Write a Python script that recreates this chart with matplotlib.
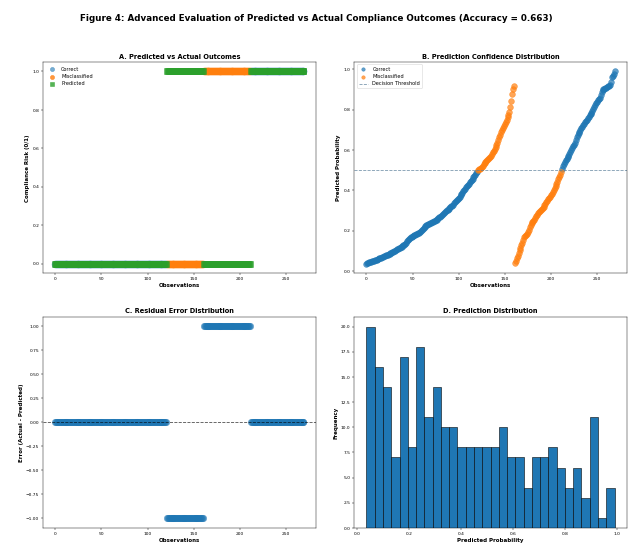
import numpy as np
import matplotlib
matplotlib.use("Agg")
import matplotlib.pyplot as plt

# predicted probabilities, sorted within each actual class
probs_class0 = [
    0.037, 0.039, 0.041, 0.043, 0.045, 0.046, 0.048, 0.050, 0.051, 0.053,
    0.055, 0.057, 0.059, 0.061, 0.063, 0.065, 0.067,
    0.070, 0.072, 0.074, 0.076, 0.078, 0.080, 0.082, 0.084, 0.086, 0.088,
    0.091, 0.093, 0.096, 0.099,
    0.102, 0.105, 0.108, 0.110, 0.113, 0.116, 0.119, 0.122, 0.125, 0.128, 0.131,
    0.135, 0.141, 0.147, 0.153, 0.160,
    0.166, 0.168, 0.171, 0.173, 0.176, 0.178, 0.181, 0.184, 0.186, 0.189,
    0.191, 0.194,
    0.198, 0.203, 0.208, 0.213, 0.219, 0.225,
    0.229, 0.231, 0.233, 0.235, 0.238, 0.240, 0.242, 0.244, 0.247, 0.249,
    0.252, 0.255, 0.258,
    0.262, 0.266, 0.270, 0.274, 0.279, 0.284, 0.289,
    0.293, 0.297, 0.301, 0.305, 0.309, 0.313, 0.317, 0.321,
    0.325, 0.330, 0.336, 0.341, 0.347, 0.352,
    0.358, 0.364, 0.370, 0.377, 0.384,
    0.389, 0.396, 0.402, 0.409, 0.416,
    0.421, 0.427, 0.434, 0.440, 0.447,
    0.453, 0.459, 0.465, 0.471, 0.478,
    0.485, 0.493, 0.501, 0.505, 0.508, 0.511,
    0.517, 0.523, 0.529, 0.535, 0.542,
    0.548, 0.552, 0.557, 0.562, 0.567, 0.573,
    0.582, 0.589, 0.597, 0.605,
    0.614, 0.624, 0.635,
    0.648, 0.663,
    0.677, 0.688, 0.699,
    0.709, 0.719, 0.730,
    0.741, 0.751, 0.762,
    0.774, 0.789,
    0.812, 0.845, 0.878, 0.905, 0.918,
]

probs_class1 = [
    0.040, 0.052, 0.064,
    0.077, 0.092,
    0.107, 0.117, 0.127,
    0.140, 0.156,
    0.168, 0.174, 0.180, 0.186, 0.192,
    0.204, 0.218,
    0.231, 0.237, 0.243, 0.249, 0.255,
    0.264, 0.271, 0.278, 0.286,
    0.294, 0.299, 0.304, 0.309, 0.314, 0.319,
    0.327, 0.334, 0.341, 0.349,
    0.358, 0.364, 0.370, 0.376, 0.382,
    0.392, 0.402, 0.412,
    0.424, 0.434, 0.444,
    0.456, 0.466, 0.476,
    0.490, 0.507,
    0.519, 0.529, 0.539,
    0.550, 0.557, 0.564, 0.571,
    0.582, 0.592, 0.602,
    0.613, 0.620, 0.627, 0.635,
    0.648, 0.664,
    0.677, 0.684, 0.691, 0.698,
    0.709, 0.716, 0.723, 0.730,
    0.740, 0.745, 0.751, 0.757, 0.763,
    0.772, 0.779, 0.786, 0.794,
    0.805, 0.815, 0.825,
    0.835, 0.841, 0.847, 0.853, 0.859,
    0.872, 0.886,
    0.898, 0.901, 0.904, 0.907, 0.910, 0.913, 0.916, 0.919, 0.922,
    0.940,
    0.962, 0.970, 0.980, 0.990,
]

threshold = 0.5

y_prob = np.array(probs_class0 + probs_class1)
y_true = np.array([0] * len(probs_class0) + [1] * len(probs_class1))
y_pred = (y_prob >= threshold).astype(int)
correct = y_true == y_pred
residuals = y_true - y_pred
obs = np.arange(len(y_true))
accuracy = correct.mean()

plt.rcParams['font.family'] = 'DejaVu Sans'
fig, axes = plt.subplots(2, 2, figsize=(16, 14.03), dpi=39.5)
fig.subplots_adjust(left=0.068, right=0.992, bottom=0.047, top=0.888,
                    wspace=0.14, hspace=0.205)
fig.suptitle(f'Figure 4: Advanced Evaluation of Predicted vs Actual Compliance Outcomes (Accuracy = {accuracy:.3f})',
             fontsize=16, fontweight='bold', y=0.975)

title_kw = dict(fontsize=12, fontweight='bold')
label_kw = dict(fontsize=10, fontweight='bold')

# A: actual vs predicted classes
ax = axes[0, 0]
ax.scatter(obs[correct], y_true[correct], color='C0', alpha=0.6, s=160, label='Correct')
ax.scatter(obs[~correct], y_true[~correct], color='C1', alpha=0.8, s=160, label='Misclassified')
ax.scatter(obs, y_pred, color='C2', alpha=0.8, s=130, marker='s', label='Predicted')
ax.set_title('A. Predicted vs Actual Outcomes', **title_kw)
ax.set_xlabel('Observations', **label_kw)
ax.set_ylabel('Compliance Risk (0/1)', **label_kw)
ax.legend(loc='upper left', fontsize=9, frameon=False, markerscale=0.6)

# B: probabilities against the threshold
ax = axes[0, 1]
ax.scatter(obs[correct], y_prob[correct], color='C0', alpha=0.7, s=110, label='Correct')
ax.scatter(obs[~correct], y_prob[~correct], color='C1', alpha=0.7, s=110, label='Misclassified')
ax.axhline(threshold, color='#5a7f9a', linestyle='--', alpha=0.8, lw=1.5, label='Decision Threshold')
ax.set_title('B. Prediction Confidence Distribution', **title_kw)
ax.set_xlabel('Observations', **label_kw)
ax.set_ylabel('Predicted Probability', **label_kw)
ax.legend(loc='upper left', fontsize=9, markerscale=0.6)

# C: residuals
ax = axes[1, 0]
ax.scatter(obs, residuals, color='C0', alpha=0.6, s=140)
ax.axhline(0, color='black', linestyle='--', alpha=0.7, lw=1.5)
ax.set_title('C. Residual Error Distribution', **title_kw)
ax.set_xlabel('Observations', **label_kw)
ax.set_ylabel('Error (Actual - Predicted)', **label_kw)

# D: histogram of probabilities
ax = axes[1, 1]
ax.hist(y_prob, bins=30, color='C0', edgecolor='black')
ax.set_title('D. Prediction Distribution', **title_kw)
ax.set_xlabel('Predicted Probability', **label_kw)
ax.set_ylabel('Frequency', **label_kw)

for a in axes.flat:
    a.tick_params(labelsize=8)

fig.savefig('out.png', dpi=39.5)
